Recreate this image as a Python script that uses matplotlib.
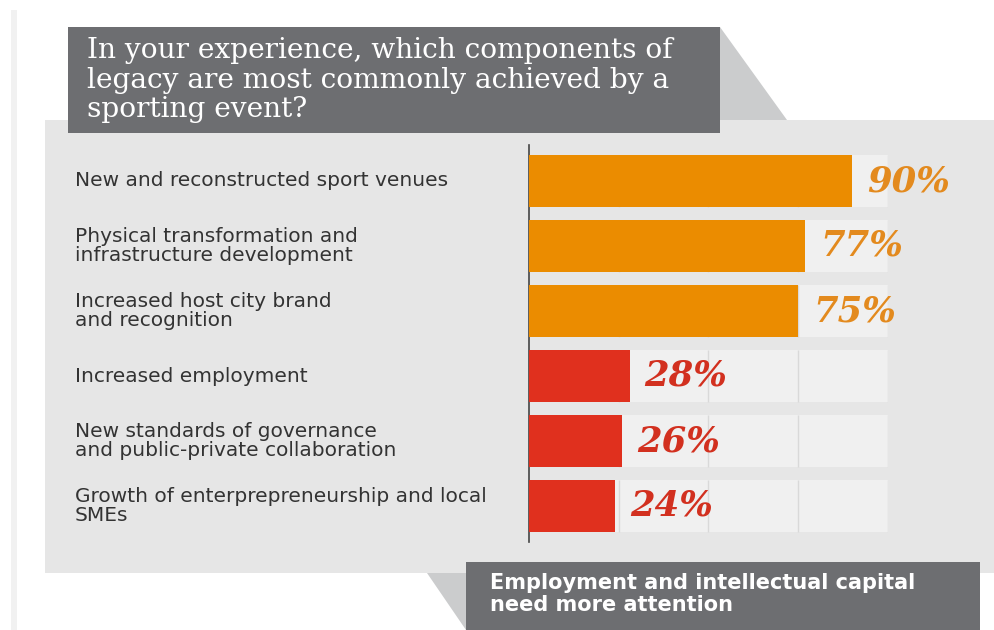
import matplotlib.pyplot as plt
import matplotlib.transforms as mtransforms
from matplotlib.patches import Rectangle, Polygon

# data
categories = [
    "New and reconstructed sport venues",
    "Physical transformation and\ninfrastructure development",
    "Increased host city brand\nand recognition",
    "Increased employment",
    "New standards of governance\nand public-private collaboration",
    "Growth of enterprepreneurship and local\nSMEs",
]
values = [90, 77, 75, 28, 26, 24]
value_labels = ["90%", "77%", "75%", "28%", "26%", "24%"]
groups = ["high", "high", "high", "low", "low", "low"]

title = "In your experience, which components of\nlegacy are most commonly achieved by a\nsporting event?"
note = "Employment and intellectual capital\nneed more attention"

ORANGE = "#eb8c00"
RED = "#e0301e"
ORANGE_TXT = "#e38a1e"
RED_TXT = "#d2301f"
DARK = "#6d6e71"
PANEL = "#e6e6e6"
ROW_BG = "#f0f0f0"
SHADOW = "#cbcccd"

W, H = 995, 630
fig = plt.figure(figsize=(W / 100, H / 100), dpi=100)
fig.patch.set_facecolor("white")

# background / decoration axes in pixel units
bg = fig.add_axes([0, 0, 1, 1])
bg.set_xlim(0, W)
bg.set_ylim(H, 0)
bg.axis("off")

bg.add_patch(Rectangle((11, 10), 6, 620, color="#f1f1f1", lw=0))
bg.add_patch(Rectangle((45, 120), 950, 453, color=PANEL, lw=0))
bg.add_patch(Polygon([(720, 27), (787, 120), (720, 120)], color=SHADOW, lw=0))
bg.add_patch(Rectangle((68, 27), 652, 106, color=DARK, lw=0))
bg.add_patch(Polygon([(427, 573), (466, 630), (466, 573)], color=SHADOW, lw=0))
bg.add_patch(Rectangle((466, 562), 514, 68, color=DARK, lw=0))

bg.text(87, 80, title, color="white", fontsize=20.2, family="DejaVu Serif",
        va="center", ha="left", linespacing=1.1)
bg.text(490, 594, note, color="white", fontsize=15, family="DejaVu Sans",
        fontweight="bold", va="center", ha="left", linespacing=1.15)

# bar axes
x0, x1 = 529, 888
top, bottom = 148.5, 538.5
ax = fig.add_axes([x0 / W, 1 - bottom / H, (x1 - x0) / W, (bottom - top) / H])
ax.set_facecolor("none")
n = len(values)
ypos = list(range(n))
ax.set_xlim(0, 100)
ax.set_ylim(n - 0.5, -0.5)

ax.barh(ypos, [100] * n, height=0.8, color=ROW_BG, lw=0, zorder=1)
for y in ypos:
    ax.vlines([25, 50, 75, 100], y - 0.4, y + 0.4, color="#d9d9d9", lw=1, zorder=2)
colors = [ORANGE if g == "high" else RED for g in groups]
ax.barh(ypos, values, height=0.8, color=colors, lw=0, zorder=3)

for y, v, lab, g in zip(ypos, values, value_labels, groups):
    ax.text(v + 4.2, y, lab, color=ORANGE_TXT if g == "high" else RED_TXT,
            fontsize=25.5, family="DejaVu Serif", style="italic", fontweight="bold",
            va="center", ha="left", zorder=4, clip_on=False)

trans = mtransforms.blended_transform_factory(bg.transData, ax.transData)
for y, cat in zip(ypos, categories):
    ax.text(75, y, cat, transform=trans, fontsize=14.5, family="DejaVu Sans",
            color="#333333", va="center", ha="left", linespacing=1.02)

for s in ["top", "right", "bottom"]:
    ax.spines[s].set_visible(False)
ax.spines["left"].set_color("#444444")
ax.spines["left"].set_linewidth(1.2)
ax.spines["left"].set_bounds(-0.55, n - 0.45)
ax.set_xticks([])
ax.set_yticks([])

fig.savefig("out.png", dpi=100)
